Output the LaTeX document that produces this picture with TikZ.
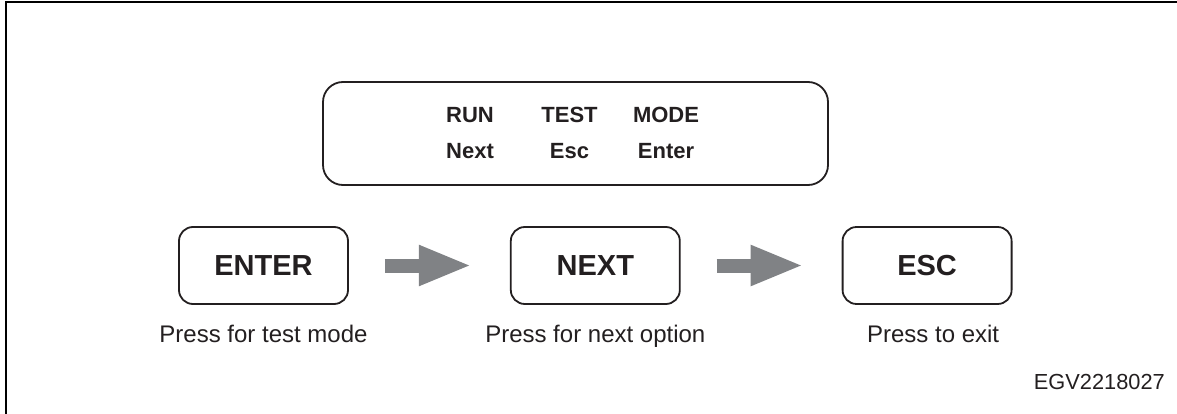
\documentclass[tikz,border=0pt]{standalone}
\usepackage{fontspec}
\setmainfont{Liberation Sans}
\usetikzlibrary{arrows.meta,positioning}

\definecolor{inkdark}{HTML}{231F20}
\definecolor{arrowgray}{HTML}{808285}

\tikzset{
  button/.style={draw=inkdark, line width=1.8pt, rounded corners=14pt,
    minimum width=169pt, minimum height=77pt, inner sep=0pt,
    font=\fontsize{29pt}{32pt}\selectfont\bfseries, text=inkdark},
  display/.style={draw=inkdark, line width=1.8pt, rounded corners=20pt,
    minimum width=505pt, minimum height=103pt},
  word/.style={anchor=base, inner sep=0pt,
    font=\fontsize{22pt}{25pt}\selectfont\bfseries, text=inkdark},
  hint/.style={inner sep=0pt, font=\fontsize{24pt}{27pt}\selectfont, text=inkdark},
  blockarrow/.style={draw=arrowgray, line width=14pt,
    -{Triangle[length=53pt, width=37pt, fill=arrowgray]},
    shorten <=36pt, shorten >=38pt}
}

\begin{document}
\begin{tikzpicture}[x=1pt, y=-1pt]
\useasboundingbox (0,0) rectangle (1177,414);
\draw[line width=1.2pt] (6,414) -- (6,2) -- (1177,2);

\node (disp) [display] at (575.5,133.5) {};
\node (run) [word] at (470,123) {RUN};
\node (test) [word] at (569.5,123) {TEST};
\node (mode) [word] at (666,123) {MODE};
\node (nxt) [word] at (470,159) {Next};
\node (esc) [word] at (569.5,159) {Esc};
\node (ent) [word] at (666,159) {Enter};

\node (enter) [button] at (263.5,265.5) {ENTER};
\node (next) [button, right=161pt of enter] {NEXT};
\node (exit) [button, right=161pt of next] {ESC};

\node (hintenter) [hint, below=20pt of enter] {Press for test mode};
\node (hintnext) [hint, below=20pt of next] {Press for next option};
\node (hintexit) [hint, below=20pt of exit, xshift=6pt] {Press to exit};

\draw[blockarrow] (enter) -- (next);
\draw[blockarrow] (next) -- (exit);

\node (code) [anchor=base east, inner sep=0pt, font=\fontsize{21.8pt}{24pt}\selectfont, text=inkdark] at (1165,389) {EGV2218027};
\end{tikzpicture}
\end{document}
